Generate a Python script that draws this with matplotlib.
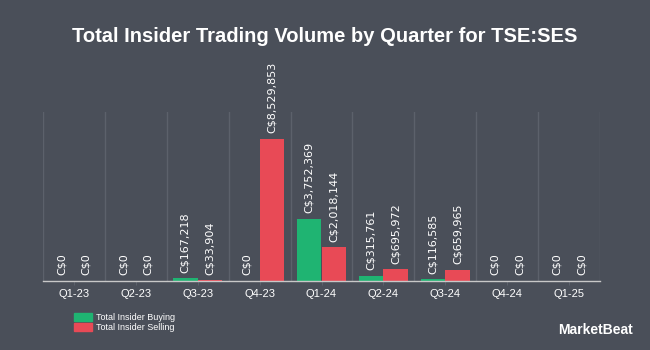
import numpy as np
import matplotlib
matplotlib.use("Agg")
import matplotlib.pyplot as plt
from matplotlib.patches import Rectangle

# Quarterly insider trading volume (C$)
quarters = ["Q1-23", "Q2-23", "Q3-23", "Q4-23", "Q1-24", "Q2-24", "Q3-24", "Q4-24", "Q1-25"]
buying = [0, 0, 167218, 0, 3752369, 315761, 116585, 0, 0]
selling = [0, 0, 33904, 8529853, 2018144, 695972, 659965, 0, 0]

BG = "#4a4f59"
GREEN = "#1fb472"
RED = "#e84a56"
GRID = "#5c616b"
TEXT = "#ffffff"

fig = plt.figure(figsize=(6.5, 3.5), dpi=100, facecolor=BG)
ax = fig.add_axes([43 / 650, 1 - 281 / 350, 557 / 650, 169 / 350])
ax.set_facecolor(BG)

x = np.arange(len(quarters))
w = 0.4
ax.bar(x - w / 2, buying, w, color=GREEN, zorder=3)
ax.bar(x + w / 2, selling, w, color=RED, zorder=3)

# value labels above each bar
for xi, b, s in zip(x, buying, selling):
    for xo, v in ((xi - w / 2, b), (xi + w / 2, s)):
        ax.annotate(f"C${v:,.0f}", (xo, v), xytext=(0, 4), textcoords="offset points",
                    rotation=90, ha="center", va="bottom", color=TEXT,
                    fontsize=8, family="DejaVu Sans", annotation_clip=False)

ax.set_xlim(-0.5, len(quarters) - 0.5)
ax.set_ylim(0, 10.15e6)

# vertical separators between quarters
for b in np.arange(-0.5, len(quarters), 1.0):
    ax.axvline(b, color=GRID, lw=1, zorder=1)

ax.set_xticks(x)
ax.set_xticklabels(quarters, fontsize=8, family="Liberation Sans", color=TEXT)
ax.set_yticks([])
ax.tick_params(axis="x", length=3, color=GRID, pad=3)
for sp in ["top", "right", "left"]:
    ax.spines[sp].set_visible(False)
ax.spines["bottom"].set_color("#c8c8c8")
ax.spines["bottom"].set_linewidth(1)
ax.spines["bottom"].set_zorder(4)

fig.text(0.5, 1 - 37 / 350, "Total Insider Trading Volume by Quarter for TSE:SES",
         ha="center", va="center", color=TEXT, fontsize=14.5, fontweight="bold",
         family="Liberation Sans")

# legend
for i, (lab, col) in enumerate([("Total Insider Buying", GREEN), ("Total Insider Selling", RED)]):
    y0 = 1 - (321 + 10 * i) / 350
    fig.patches.append(Rectangle((74 / 650, y0), 18 / 650, 8 / 350, transform=fig.transFigure,
                                 color=col, figure=fig))
    fig.text(96 / 650, y0 + 4 / 350, lab, ha="left", va="center", color=TEXT,
             fontsize=6.5, family="Liberation Sans")

fig.text(633 / 650, 1 - 330 / 350, "MarketBeat", ha="right", va="center", color=TEXT,
         fontsize=10, fontweight="bold", family="Liberation Sans")

fig.savefig("out.png", dpi=100, facecolor=BG)
